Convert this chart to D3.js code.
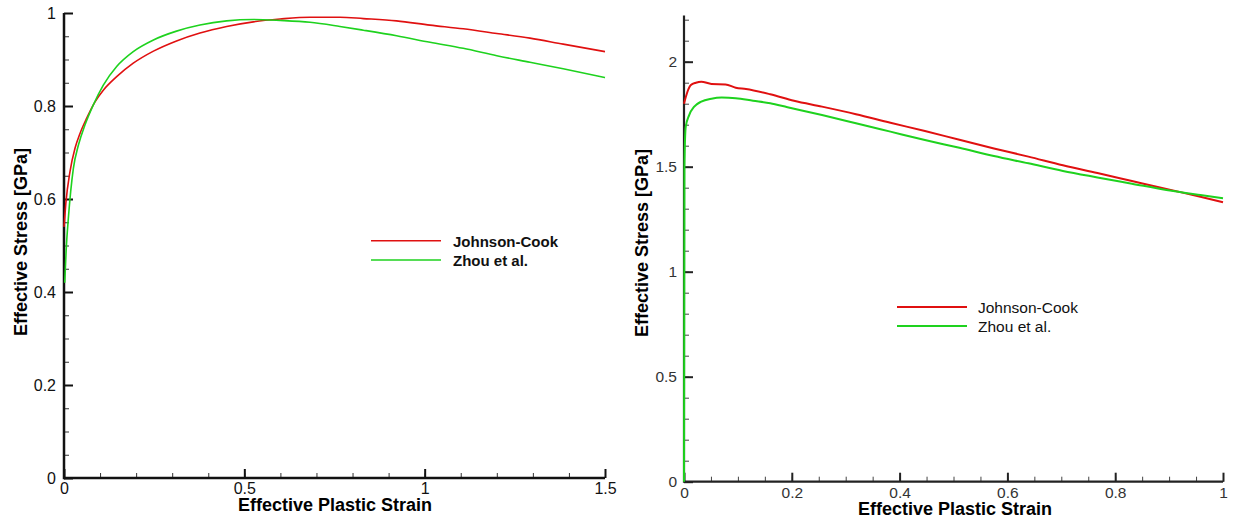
<!DOCTYPE html>
<html>
<head>
<meta charset="utf-8">
<script src="https://cdn.jsdelivr.net/npm/d3@7"></script>
<style>
  html, body { margin: 0; padding: 0; background: #fff; }
  svg { display: block; font-family: "Liberation Sans", Arial, sans-serif; }
</style>
</head>
<body>
<svg id="chart" width="1233" height="521"></svg>
<script>
// ---------- DATA ----------
const seriesNames = ["Johnson-Cook", "Zhou et al."];

// Left panel
const leftJCStrain = [0, 0.005, 0.0166, 0.0305, 0.0444, 0.063, 0.086, 0.109, 0.146, 0.192, 0.248, 0.312, 0.377, 0.451, 0.525, 0.599, 0.682, 0.765, 0.83, 0.922, 1.015, 1.107, 1.2, 1.292, 1.384, 1.5];
const leftJCStress = [0.54, 0.59, 0.659, 0.709, 0.741, 0.774, 0.809, 0.834, 0.863, 0.892, 0.918, 0.940, 0.957, 0.971, 0.981, 0.987, 0.991, 0.991, 0.988, 0.983, 0.974, 0.966, 0.956, 0.946, 0.933, 0.917];
const leftZhouStrain = [0.002, 0.006, 0.012, 0.0185, 0.026, 0.04, 0.058, 0.081, 0.109, 0.146, 0.192, 0.248, 0.312, 0.377, 0.451, 0.525, 0.599, 0.682, 0.765, 0.83, 0.922, 1.015, 1.107, 1.2, 1.292, 1.384, 1.5];
const leftZhouStress = [0.42, 0.49, 0.558, 0.616, 0.666, 0.716, 0.759, 0.802, 0.845, 0.885, 0.917, 0.942, 0.961, 0.974, 0.983, 0.986, 0.984, 0.980, 0.971, 0.963, 0.951, 0.937, 0.924, 0.908, 0.894, 0.880, 0.861];
const leftXTicks = [0, 0.5, 1, 1.5];
const leftXTickLabels = ["0", "0.5", "1", "1.5"];
const leftYTicks = [0, 0.2, 0.4, 0.6, 0.8, 1];
const leftYTickLabels = ["0", "0.2", "0.4", "0.6", "0.8", "1"];

// Right panel
const rightJCStrain = [0, 0.0064, 0.0128, 0.022, 0.032, 0.051, 0.077, 0.096, 0.115, 0.16, 0.204, 0.256, 0.319, 0.383, 0.447, 0.511, 0.575, 0.639, 0.703, 0.767, 0.831, 0.895, 0.958, 1.0];
const rightJCStress = [1.80, 1.857, 1.889, 1.900, 1.905, 1.894, 1.892, 1.876, 1.870, 1.845, 1.814, 1.786, 1.750, 1.709, 1.670, 1.628, 1.587, 1.548, 1.507, 1.470, 1.432, 1.394, 1.357, 1.331];
const rightZhouStrain = [0, 0.0008, 0.0032, 0.0096, 0.019, 0.032, 0.051, 0.070, 0.096, 0.128, 0.160, 0.192, 0.256, 0.319, 0.383, 0.447, 0.511, 0.575, 0.639, 0.703, 0.767, 0.831, 0.895, 0.958, 1.0];
const rightZhouStress = [0, 1.5, 1.69, 1.746, 1.786, 1.810, 1.824, 1.829, 1.826, 1.814, 1.802, 1.783, 1.746, 1.707, 1.667, 1.627, 1.590, 1.551, 1.516, 1.480, 1.449, 1.419, 1.389, 1.365, 1.35];
const rightXTicks = [0, 0.2, 0.4, 0.6, 0.8, 1];
const rightXTickLabels = ["0", "0.2", "0.4", "0.6", "0.8", "1"];
const rightYTicks = [0, 0.5, 1, 1.5, 2];
const rightYTickLabels = ["0", "0.5", "1", "1.5", "2"];

const xTitle = "Effective Plastic Strain";
const yTitle = "Effective Stress [GPa]";
const colors = ["#e01010", "#1ed21e"];

// ---------- DRAW ----------
const svg = d3.select("#chart");

function zip(xs, ys) { return xs.map((x, i) => [x, ys[i]]); }
function range(a, b, s) { const out = []; for (let v = a; v <= b + 1e-9; v += s) out.push(+v.toFixed(6)); return out; }

function panel(cfg) {
  const g = svg.append("g");
  const x = d3.scaleLinear().domain(cfg.xDomain).range(cfg.xRange);
  const y = d3.scaleLinear().domain(cfg.yDomain).range(cfg.yRange);
  const x0 = cfg.xRange[0], y0 = cfg.yRange[0];

  // minor ticks
  const minorX = d3.axisBottom(x).tickValues(cfg.xMinor).tickSize(-cfg.minorLen).tickSizeOuter(0).tickFormat("");
  g.append("g").attr("transform", `translate(0,${y0})`).call(minorX)
    .call(s => s.select(".domain").remove())
    .call(s => s.selectAll("line").attr("stroke", cfg.minorColor).attr("stroke-width", 1));
  const minorY = d3.axisLeft(y).tickValues(cfg.yMinor).tickSize(-cfg.minorLen).tickSizeOuter(0).tickFormat("");
  g.append("g").attr("transform", `translate(${x0},0)`).call(minorY)
    .call(s => s.select(".domain").remove())
    .call(s => s.selectAll("line").attr("stroke", cfg.minorColor).attr("stroke-width", 1));

  // major ticks + labels
  const ax = d3.axisBottom(x).tickValues(cfg.xTicks).tickSize(-cfg.majorLen).tickSizeOuter(0)
    .tickPadding(cfg.xPad).tickFormat((d, i) => cfg.xLabels[i]);
  g.append("g").attr("transform", `translate(0,${y0})`).call(ax)
    .call(s => s.select(".domain").remove())
    .call(s => s.selectAll("line").attr("stroke", cfg.axisColor).attr("stroke-width", cfg.majorW))
    .call(s => s.selectAll("text").attr("font-size", cfg.tickFont).attr("fill", cfg.tickColor)
      .attr("font-family", "Liberation Sans, Arial, sans-serif"));
  const ay = d3.axisLeft(y).tickValues(cfg.yTicks).tickSize(-cfg.majorLen).tickSizeOuter(0)
    .tickPadding(cfg.yPad).tickFormat((d, i) => cfg.yLabels[i]);
  g.append("g").attr("transform", `translate(${x0},0)`).call(ay)
    .call(s => s.select(".domain").remove())
    .call(s => s.selectAll("line").attr("stroke", cfg.axisColor).attr("stroke-width", cfg.majorW))
    .call(s => s.selectAll("text").attr("font-size", cfg.tickFont).attr("fill", cfg.tickColor)
      .attr("font-family", "Liberation Sans, Arial, sans-serif"));

  // axis lines
  g.append("line").attr("x1", x0).attr("x2", x0).attr("y1", y0 + cfg.axisW / 2).attr("y2", cfg.yRange[1])
    .attr("stroke", cfg.axisColor).attr("stroke-width", cfg.axisW);
  g.append("line").attr("x1", x0).attr("x2", cfg.xRange[1]).attr("y1", y0).attr("y2", y0)
    .attr("stroke", cfg.axisColor).attr("stroke-width", cfg.axisW);

  // curves
  const line = d3.line().x(d => x(d[0])).y(d => y(d[1])).curve(d3.curveMonotoneX);
  cfg.series.forEach((s, i) => {
    g.append("path").attr("d", line(s)).attr("fill", "none")
      .attr("stroke", colors[i]).attr("stroke-width", cfg.lineW);
  });

  // titles
  g.append("text").attr("x", cfg.xTitlePos[0]).attr("y", cfg.xTitlePos[1])
    .attr("text-anchor", "middle").attr("font-weight", "bold").attr("font-size", 18)
    .attr("fill", "#000").text(xTitle);
  g.append("text").attr("transform", `translate(${cfg.yTitlePos[0]},${cfg.yTitlePos[1]}) rotate(-90)`)
    .attr("text-anchor", "middle").attr("font-weight", "bold").attr("font-size", 18)
    .attr("fill", "#000").text(yTitle);

  // legend
  seriesNames.forEach((n, i) => {
    const ly = cfg.legendY[i];
    g.append("line").attr("x1", cfg.legendX[0]).attr("x2", cfg.legendX[1])
      .attr("y1", ly).attr("y2", ly).attr("stroke", colors[i]).attr("stroke-width", cfg.legendLineW);
    g.append("text").attr("x", cfg.legendX[2]).attr("y", ly + cfg.legendDy)
      .attr("font-size", cfg.legendFont).attr("font-weight", cfg.legendWeight)
      .attr("fill", "#111").text(n);
  });
}

panel({
  xDomain: [0, 1.5], xRange: [64, 605],
  yDomain: [0, 1], yRange: [478, 13],
  xTicks: leftXTicks, xLabels: leftXTickLabels,
  yTicks: leftYTicks, yLabels: leftYTickLabels,
  xMinor: range(0, 1.5, 0.1), yMinor: range(0, 1, 0.05),
  majorLen: 9, minorLen: 5, majorW: 2, axisW: 2.5,
  axisColor: "#111", minorColor: "#333",
  tickFont: 16, tickColor: "#111", xPad: 5, yPad: 8,
  lineW: 1.6,
  series: [zip(leftJCStrain, leftJCStress), zip(leftZhouStrain, leftZhouStress)],
  xTitlePos: [335, 511], yTitlePos: [27, 242],
  legendX: [371, 441, 453], legendY: [240.7, 260], legendDy: 6,
  legendFont: 15, legendWeight: "bold", legendLineW: 1.6
});

panel({
  xDomain: [0, 1], xRange: [684, 1223],
  yDomain: [0, 2.22], yRange: [481.7, 481.7 - 2.22 * 210],
  xTicks: rightXTicks, xLabels: rightXTickLabels,
  yTicks: rightYTicks, yLabels: rightYTickLabels,
  xMinor: range(0, 1, 0.05), yMinor: range(0, 2.2, 0.1),
  majorLen: 9, minorLen: 5, majorW: 2, axisW: 2.2,
  axisColor: "#222", minorColor: "#444",
  tickFont: 15.5, tickColor: "#333", xPad: 5, yPad: 7,
  lineW: 2,
  series: [zip(rightJCStrain, rightJCStress), zip(rightZhouStrain, rightZhouStress)],
  xTitlePos: [955, 515], yTitlePos: [648, 243],
  legendX: [897, 967, 978], legendY: [307, 326], legendDy: 6,
  legendFont: 15.5, legendWeight: "normal", legendLineW: 2
});
</script>
</body>
</html>
